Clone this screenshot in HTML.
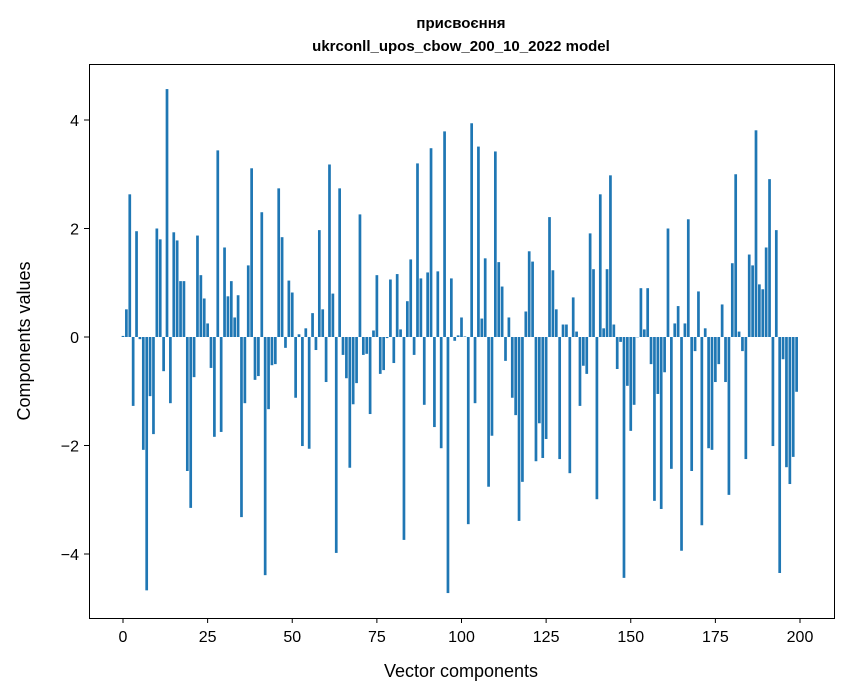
<!DOCTYPE html>
<html><head><meta charset="utf-8"><style>
body{margin:0;background:#fff}
svg{display:block;font-family:"Liberation Sans","DejaVu Sans",sans-serif}
</style></head><body>
<svg id="chart" width="847" height="696" viewBox="0 0 847 696">
<rect x="0" y="0" width="847" height="696" fill="#fff"/>
<text x="461" y="28" text-anchor="middle" font-size="15" font-weight="bold">присвоєння</text>
<text x="461" y="51" text-anchor="middle" font-size="15" font-weight="bold">ukrconll_upos_cbow_200_10_2022 model</text>
<g id="bars"></g>
<g id="axes"></g>
<rect x="89.5" y="64.5" width="745" height="554" fill="none" stroke="#000" stroke-width="1"/>
<text x="461" y="677" text-anchor="middle" font-size="18">Vector components</text>
<text transform="translate(30,341) rotate(-90)" text-anchor="middle" font-size="18">Components values</text>
</svg>
<script>
const values = [0.02,0.51,2.63,-1.27,1.95,-0.04,-2.08,-4.67,-1.09,-1.79,
2.0,1.8,-0.63,4.57,-1.22,1.93,1.78,1.03,1.03,-2.47,
-3.15,-0.74,1.87,1.14,0.71,0.25,-0.57,-1.84,3.44,-1.75,
1.65,0.75,1.03,0.36,0.77,-3.32,-1.22,1.32,3.11,-0.79,
-0.72,2.30,-4.39,-1.33,-0.52,-0.5,2.74,1.84,-0.2,1.04,
0.82,-1.12,0.05,-2.01,0.16,-2.06,0.44,-0.24,1.97,0.51,
-0.83,3.18,0.80,-3.98,2.74,-0.33,-0.76,-2.41,-1.24,-0.85,
2.26,-0.33,-0.31,-1.42,0.12,1.14,-0.68,-0.61,-0.02,1.06,
-0.48,1.16,0.14,-3.74,0.66,1.43,-0.33,3.2,1.08,-1.25,
1.19,3.48,-1.66,1.21,-2.05,3.79,-4.72,1.08,-0.07,0.03,
0.36,0.01,-3.45,3.94,-1.22,3.51,0.34,1.45,-2.76,-1.82,
3.42,1.38,0.93,-0.44,0.36,-1.12,-1.44,-3.39,-2.67,0.47,
1.58,1.39,-2.29,-1.59,-2.23,-1.88,2.21,1.23,0.51,-2.25,
0.23,0.23,-2.51,0.73,0.1,-1.27,-0.53,-0.68,1.91,1.25,
-2.99,2.63,0.16,1.25,2.98,0.23,-0.59,-0.09,-4.44,-0.9,
-1.73,-1.25,0.0,0.9,0.14,0.9,-0.5,-3.02,-1.05,-3.17,
-0.65,2.0,-2.43,0.25,0.57,-3.94,0.25,2.17,-2.47,-0.26,
0.84,-3.47,0.16,-2.05,-2.08,-0.83,-0.5,0.6,-0.83,-2.91,
1.36,3.0,0.1,-0.26,-2.25,1.52,1.32,3.81,0.97,0.88,
1.65,2.91,-2.01,1.97,-4.35,-0.41,-2.4,-2.71,-2.21,-1.01];
const xTicks = [0,25,50,75,100,125,150,175,200];
const yTicks = [-4,-2,0,2,4];
const NS = "http://www.w3.org/2000/svg";
const xs = v => 123 + v * 3.385;
const ys = v => 337 - v * 54.25;
const bars = document.getElementById('bars');
values.forEach((v, i) => {
  const r = document.createElementNS(NS, 'rect');
  const y0 = ys(Math.max(v, 0)), y1 = ys(Math.min(v, 0));
  r.setAttribute('x', xs(i - 0.4));
  r.setAttribute('y', y0);
  r.setAttribute('width', 0.8 * 3.385);
  r.setAttribute('height', Math.max(y1 - y0, 0.3));
  r.setAttribute('fill', '#1f77b4');
  
  
  bars.appendChild(r);
});
const axes = document.getElementById('axes');
xTicks.forEach(t => {
  const l = document.createElementNS(NS, 'line');
  l.setAttribute('x1', xs(t)); l.setAttribute('x2', xs(t));
  l.setAttribute('y1', 618); l.setAttribute('y2', 623);
  l.setAttribute('stroke', '#000');
  
  
  axes.appendChild(l);
  const tx = document.createElementNS(NS, 'text');
  tx.setAttribute('x', xs(t)); tx.setAttribute('y', 642);
  tx.setAttribute('text-anchor', 'middle'); tx.setAttribute('font-size', '16');
  tx.textContent = t;
  
  
  axes.appendChild(tx);
});
yTicks.forEach(t => {
  const l = document.createElementNS(NS, 'line');
  l.setAttribute('x1', 84); l.setAttribute('x2', 89);
  l.setAttribute('y1', ys(t)); l.setAttribute('y2', ys(t));
  l.setAttribute('stroke', '#000');
  
  
  axes.appendChild(l);
  const tx = document.createElementNS(NS, 'text');
  tx.setAttribute('x', 79); tx.setAttribute('y', ys(t) + 6);
  tx.setAttribute('text-anchor', 'end'); tx.setAttribute('font-size', '16');
  tx.textContent = t < 0 ? '\u2212' + Math.abs(t) : String(t);
  
  
  axes.appendChild(tx);
});
</script>
</body></html>
